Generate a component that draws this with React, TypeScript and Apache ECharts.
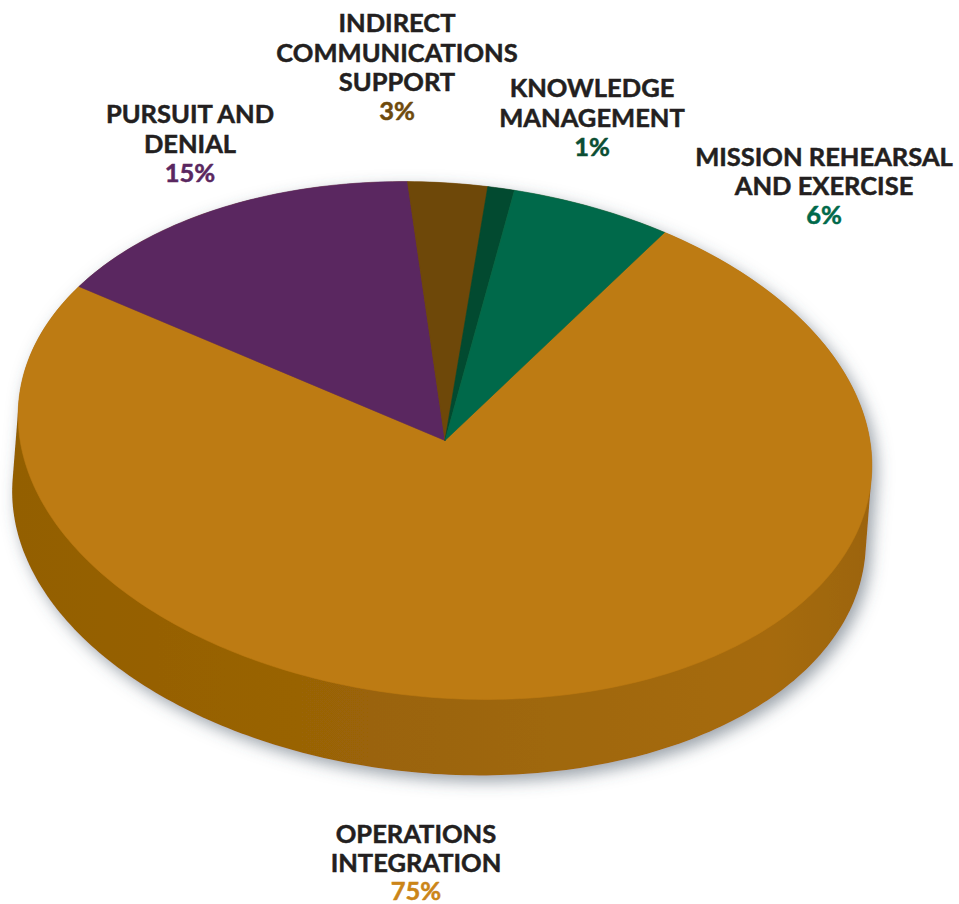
import React, { useEffect, useRef } from "react";
import * as echarts from "echarts";

const categories = [
  "OPERATIONS\nINTEGRATION",
  "PURSUIT AND\nDENIAL",
  "INDIRECT\nCOMMUNICATIONS\nSUPPORT",
  "KNOWLEDGE\nMANAGEMENT",
  "MISSION REHEARSAL\nAND EXERCISE",
];
const shares = [75, 15, 3, 1, 6];

const sliceColors = ["#BD7B13", "#5A2760", "#6E4809", "#024A30", "#00694A"];
const percentColors = ["#CB8518", "#5A2760", "#6E4A0C", "#0B4E33", "#00694A"];
const inkColor = "#231F20";

// Centre of each label block; first text line and percent line are derived from it.
const labelCentersX = [416, 190, 397, 592, 824];
const labelTopLineY = [832.5, 113, 22, 87, 155.5];
const lineStep = 29.5;
const lowestPercentY = 890;

// Tilted-disc projection of the pie.
const center = { x: 445, y: 440.5 };
const radiusX = 428;
const radiusY = 257;
const tiltDeg = 5.25;
const wallOffset = { x: -6, y: 76 };
const firstSliceStartDeg = 27.8;

const rad = (d: number) => (d * Math.PI) / 180;
const cosT = Math.cos(rad(tiltDeg));
const sinT = Math.sin(rad(tiltDeg));

// Angle runs clockwise from the top of the disc.
function rim(deg: number, shift = { x: 0, y: 0 }): [number, number] {
  const px = radiusX * Math.sin(rad(deg));
  const py = -radiusY * Math.cos(rad(deg));
  return [
    center.x + px * cosT - py * sinT + shift.x,
    center.y + px * sinT + py * cosT + shift.y,
  ];
}

function arc(from: number, to: number, shift = { x: 0, y: 0 }) {
  const pts: [number, number][] = [];
  const steps = Math.max(2, Math.ceil(Math.abs(to - from)));
  for (let i = 0; i <= steps; i++) pts.push(rim(from + ((to - from) * i) / steps, shift));
  return pts;
}

// Outline of the whole solid: upper rim of the top face, lower rim of the base.
function silhouette() {
  let right = 0;
  let left = 0;
  let hi = -Infinity;
  let lo = Infinity;
  for (let d = 0; d < 360; d += 0.5) {
    const [x, y] = rim(d);
    const s = x * wallOffset.y - y * wallOffset.x;
    if (s > hi) { hi = s; right = d; }
    if (s < lo) { lo = s; left = d; }
  }
  return [...arc(left, right + 360), ...arc(right, left, wallOffset)];
}

function renderSolid() {
  return {
    type: "polygon",
    shape: { points: silhouette() },
    style: {
      fill: new echarts.graphic.LinearGradient(0, 0, 1, 0, [
        { offset: 0, color: "#935F02" },
        { offset: 0.5, color: "#9C6508" },
        { offset: 0.88, color: "#A66B0A" },
        { offset: 1, color: "#9C6408" },
      ]),
      shadowColor: "rgba(70,85,100,0.55)",
      shadowBlur: 16,
      shadowOffsetX: 5,
      shadowOffsetY: 6,
    },
  };
}

function renderSlice(params: any, api: any) {
  const i = params.dataIndex;
  const total = shares.reduce((a, b) => a + b, 0);
  const before = shares.slice(0, i).reduce((a, b) => a + b, 0);
  const from = firstSliceStartDeg + (before / total) * 360;
  const to = from + (api.value(0) / total) * 360;
  const lines = categories[i].split("\n").length;
  const font = { fontFamily: "Lato", fontWeight: 700, fontSize: 25.5, lineWidth: 0.5 };
  return {
    type: "group",
    children: [
      {
        type: "polygon",
        shape: { points: [[center.x, center.y], ...arc(from, to)] },
        style: { fill: sliceColors[i], stroke: sliceColors[i], lineWidth: 0.6 },
      },
      {
        type: "text",
        x: labelCentersX[i],
        y: labelTopLineY[i] - lineStep / 2,
        style: {
          ...font,
          text: categories[i],
          fill: inkColor,
          stroke: inkColor,
          align: "center",
          verticalAlign: "top",
          lineHeight: lineStep,
        },
      },
      {
        type: "text",
        x: labelCentersX[i],
        y: Math.min(labelTopLineY[i] + lines * lineStep - 0.5, lowestPercentY),
        style: {
          ...font,
          text: `${api.value(0)}%`,
          fill: percentColors[i],
          stroke: percentColors[i],
          align: "center",
          verticalAlign: "middle",
        },
      },
    ],
  };
}

export default function App() {
  const ref = useRef<HTMLDivElement>(null);
  useEffect(() => {
    const chart = echarts.init(ref.current!, null, { renderer: "svg" });
    chart.setOption({
      animation: false,
      backgroundColor: "#ffffff",
      series: [
        {
          type: "custom",
          coordinateSystem: "none",
          silent: true,
          data: [[shares.length]],
          renderItem: renderSolid,
        },
        {
          type: "custom",
          coordinateSystem: "none",
          silent: true,
          data: shares.map((v) => [v]),
          renderItem: renderSlice,
        },
      ],
    });
    return () => chart.dispose();
  }, []);
  return (
    <div
      ref={ref}
      style={{ position: "absolute", left: 0, top: 0, width: 959, height: 904 }}
    />
  );
}
